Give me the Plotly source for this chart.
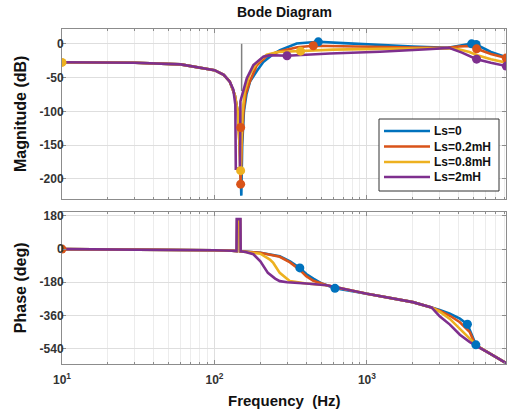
import plotly.graph_objects as go

# ---------------- data ----------------
series_names = ["Ls=0", "Ls=0.2mH", "Ls=0.8mH", "Ls=2mH"]
series_colors = ["#0072BD", "#D95319", "#EDB120", "#7E2F8E"]

# Magnitude (dB)
mag_f_blue = [10, 30, 60, 87, 100, 115, 126, 136, 142, 147, 150, 152, 156, 162, 171, 190, 209, 240, 269, 346, 480, 700, 1216, 2000, 3400, 4000, 4600, 4860, 5200, 6500, 8200]
mag_blue = [-27.3, -28, -30.5, -36.5, -39, -46, -56, -76, -100, -150, -225, -150, -100, -75, -56, -40, -27, -16, -9.3, 0.5, 3, 1, -2, -4, -6, -3, 0, 0.5, -1, -12, -20]

mag_f_orange = [10, 30, 60, 87, 100, 115, 126, 136, 142, 146, 148.5, 151, 155, 160, 170, 189, 220, 269, 350, 445, 700, 1216, 2000, 3400, 4000, 4800, 5240, 6500, 8200]
mag_orange = [-27.3, -28, -30.5, -36.5, -39, -46, -56, -76, -100, -150, -210, -150, -100, -75, -57, -32, -18, -11, -5, -2.9, -4, -5, -5.5, -6, -4, -3, -7.4, -15, -21]

mag_f_yellow = [10, 30, 60, 87, 100, 115, 126, 136, 142, 146, 148.5, 150, 153, 158, 170, 190, 220, 260, 367, 600, 1216, 2000, 3400, 4000, 4700, 5300, 6500, 8200]
mag_yellow = [-27.3, -28, -30.5, -36.5, -39, -46, -56, -76, -100, -150, -190, -150, -100, -70, -45, -28, -16, -12, -10.8, -8.5, -7.5, -7, -6.5, -8, -12, -17, -23, -28]

mag_f_purple = [10, 30, 60, 87, 100, 115, 126, 133, 137, 138, 147, 148, 155, 163, 180, 209, 231, 299, 571, 1216, 2500, 3450, 4200, 5240, 6500, 8200]
mag_purple = [-27.3, -28, -30.5, -36.5, -39, -46, -56, -68, -90, -185, -185, -85, -68, -51, -31.5, -19, -16.7, -17.7, -14.3, -11.8, -8, -6, -13, -22.7, -28, -33]

# Phase (deg)
ph_f_blue = [10, 30, 60, 100, 130, 140.5, 141, 147, 147.5, 160, 200, 268, 313, 363, 400, 445, 500, 545, 617, 1000, 2000, 2650, 3000, 3500, 4070, 4560, 5180, 5300, 6500, 8200]
ph_blue = [0, -1, -3, -6, -9, -11, 160, 160, -12, -14, -20, -39, -66, -102, -135, -160, -185, -196, -213, -242, -288, -317, -330, -351, -378, -408, -520, -527, -570, -620]

ph_f_orange = [10, 30, 60, 100, 130, 140.5, 141, 147, 147.5, 160, 200, 268, 313, 360, 400, 445, 545, 1000, 2000, 2650, 3000, 3500, 4070, 4730, 5100, 5300, 6500, 8200]
ph_orange = [0, -1, -3, -6, -9, -11, 160, 160, -12, -14, -20, -42, -72, -110, -147, -172, -196, -242, -288, -317, -335, -362, -397, -451, -514, -527, -570, -620]

ph_f_yellow = [10, 30, 60, 100, 130, 140.5, 141, 147, 147.5, 160, 180, 200, 231, 243, 268, 313, 400, 545, 1000, 2000, 2650, 3000, 3500, 4070, 4730, 5300, 6500, 8200]
ph_yellow = [0, -1, -3, -6, -9, -11, 160, 160, -12, -15, -18, -25, -57, -75, -129, -174, -187, -196, -242, -288, -317, -340, -379, -433, -487, -527, -570, -620]

ph_f_purple = [10, 30, 60, 100, 130, 139.5, 140, 148, 148.5, 160, 180, 200, 224, 250, 268, 300, 400, 545, 1000, 2000, 2650, 3000, 3500, 4070, 4730, 5300, 6500, 8200]
ph_purple = [0, -1, -3, -6, -9, -11, 163, 163, -12, -16, -28, -66, -129, -160, -174, -180, -187, -196, -242, -288, -317, -365, -410, -465, -505, -527, -570, -620]

# Gray vertical line at the notch in the magnitude plot
notch_line_f = [150.7, 150.7]
notch_line_db = [0, -70]

# Data-tip markers
mk_mag_f = [[480, 4860, 5200], [148.5, 148.5, 445, 5240, 8200], [10, 148.5, 367], [299, 5240, 8200]]
mk_mag_db = [[3, 0, -1], [-124, -208, -2.9, -7.4, -21], [-27.5, -188, -10.8], [-17.7, -22.7, -33]]
mk_ph_f = [[363, 617, 4560, 5180], [10], [], []]
mk_ph_deg = [[-102, -213, -408, -520], [0], [], []]

mag_ticks = [0, -50, -100, -150, -200]
mag_tick_text = ["0", "-50", "-100", "-150", "-200"]
ph_ticks = [180, 0, -180, -360, -540]
ph_tick_text = ["180", "0", "-180", "-360", "-540"]
x_major = [10, 100, 1000]
x_major_text = ["10<sup>1</sup>", "10<sup>2</sup>", "10<sup>3</sup>"]
x_minor = [20, 30, 40, 50, 60, 70, 80, 90, 200, 300, 400, 500, 600, 700, 800, 900,
           2000, 3000, 4000, 5000, 6000, 7000, 8000]

# ---------------- figure ----------------
mag_f = [mag_f_blue, mag_f_orange, mag_f_yellow, mag_f_purple]
mag_v = [mag_blue, mag_orange, mag_yellow, mag_purple]
ph_f = [ph_f_blue, ph_f_orange, ph_f_yellow, ph_f_purple]
ph_v = [ph_blue, ph_orange, ph_yellow, ph_purple]

W, H = 509, 417
l_m, r_m, t_m, b_m = 62, 3, 29, 53
plot_w = W - l_m - r_m
plot_h = H - t_m - b_m


def px_x(px):
    return (px - l_m) / plot_w


def px_y(py):
    return (H - b_m - py) / plot_h


fig = go.Figure()

fig.add_trace(go.Scatter(x=notch_line_f, y=notch_line_db, mode="lines",
                         line=dict(color="#808080", width=1.5), showlegend=False,
                         xaxis="x", yaxis="y"))

for i in range(4):
    fig.add_trace(go.Scatter(x=mag_f[i], y=mag_v[i], mode="lines", name=series_names[i],
                             line=dict(color=series_colors[i], width=2.6),
                             showlegend=False, xaxis="x", yaxis="y"))
for i in range(4):
    fig.add_trace(go.Scatter(x=ph_f[i], y=ph_v[i], mode="lines", name=series_names[i],
                             line=dict(color=series_colors[i], width=2.6),
                             showlegend=False, xaxis="x2", yaxis="y2"))
for i in range(4):
    if mk_mag_f[i]:
        fig.add_trace(go.Scatter(x=mk_mag_f[i], y=mk_mag_db[i], mode="markers",
                                 marker=dict(color=series_colors[i], size=9),
                                 showlegend=False, xaxis="x", yaxis="y"))
    if mk_ph_f[i]:
        fig.add_trace(go.Scatter(x=mk_ph_f[i], y=mk_ph_deg[i], mode="markers",
                                 marker=dict(color=series_colors[i], size=9),
                                 showlegend=False, xaxis="x2", yaxis="y2"))

FONT = "Liberation Sans, Arial, Helvetica, sans-serif"
tickfont = dict(family=FONT, size=12, color="#333333", weight=700)
axcol = "#8c8c8c"
gridcol = "#dedede"
minorgrid = "#ececec"

mag_dom = [px_y(199), 1.0]
ph_dom = [0.0, px_y(212.3)]

xcommon = dict(type="log", range=[1, 3.912], tickvals=x_major, ticktext=x_major_text,
               showgrid=True, gridcolor=gridcol, gridwidth=1, automargin=False,
               showline=True, linecolor=axcol, linewidth=1, mirror="ticks",
               ticks="inside", ticklen=4, tickcolor=axcol, tickfont=tickfont,
               minor=dict(tickvals=x_minor, showgrid=True, gridcolor=minorgrid,
                          ticks="inside", ticklen=2, tickcolor=axcol),
               zeroline=False)
ycommon = dict(showgrid=True, gridcolor=gridcol, gridwidth=1, automargin=False,
               showline=True, linecolor=axcol, linewidth=1, mirror="ticks",
               ticks="inside", ticklen=4, tickcolor=axcol, tickfont=tickfont,
               zeroline=False, ticklabelstandoff=-5)

# Legend (drawn in the upper plot, MATLAB style)
leg_box = (379, 119, 499, 191)
leg_rows = [131, 146.5, 162, 177]
shapes = [dict(type="rect", xref="paper", yref="paper", layer="above",
               x0=px_x(leg_box[0]), x1=px_x(leg_box[2]),
               y0=px_y(leg_box[3]), y1=px_y(leg_box[1]),
               fillcolor="white", line=dict(color="#333333", width=1))]
leg_ann = []
for i in range(4):
    shapes.append(dict(type="line", xref="paper", yref="paper", layer="above",
                       x0=px_x(384), x1=px_x(430), y0=px_y(leg_rows[i]), y1=px_y(leg_rows[i]),
                       line=dict(color=series_colors[i], width=2.6)))
    leg_ann.append(dict(text="<b>" + series_names[i] + "</b>", xref="paper", yref="paper",
                        x=px_x(432), y=px_y(leg_rows[i]), xanchor="left", yanchor="middle",
                        showarrow=False, font=dict(family=FONT, size=12, color="#111111")))

fig.update_layout(
    width=W, height=H,
    margin=dict(l=l_m, r=r_m, t=t_m, b=b_m, autoexpand=False),
    paper_bgcolor="white", plot_bgcolor="white",
    xaxis=dict(xcommon, anchor="y", domain=[0, 1], showticklabels=False, matches="x2"),
    yaxis=dict(ycommon, anchor="x", domain=mag_dom, range=[-230, 22],
               tickvals=mag_ticks, ticktext=mag_tick_text),
    xaxis2=dict(xcommon, anchor="y2", domain=[0, 1], ticklabelstandoff=5),
    yaxis2=dict(ycommon, anchor="x2", domain=ph_dom, range=[-624, 200],
                tickvals=ph_ticks, ticktext=ph_tick_text),
    showlegend=False,
    shapes=shapes,
    annotations=[
        dict(text="<b>Bode Diagram</b>", xref="paper", yref="paper", x=0.5, y=1,
             yshift=17, showarrow=False, font=dict(family=FONT, size=14, color="#111111"),
             yanchor="middle"),
        dict(text="<b>Magnitude (dB)</b>", xref="paper", yref="paper",
             x=0, xshift=-42, y=(mag_dom[0] + mag_dom[1]) / 2, textangle=-90,
             xanchor="center", yanchor="middle",
             showarrow=False, font=dict(family=FONT, size=16, color="#111111")),
        dict(text="<b>Phase (deg)</b>", xref="paper", yref="paper",
             x=0, xshift=-42, y=(ph_dom[0] + ph_dom[1]) / 2, textangle=-90,
             xanchor="center", yanchor="middle",
             showarrow=False, font=dict(family=FONT, size=16, color="#111111")),
        dict(text="<b>Frequency  (Hz)</b>", xref="paper", yref="paper",
             x=0.5, y=0, yshift=-36, showarrow=False, yanchor="middle",
             font=dict(family=FONT, size=15, color="#111111")),
    ] + leg_ann,
)

fig.write_html("out.html", config={"displayModeBar": False},
               post_script="document.body.style.margin='0';document.body.style.overflow='hidden';")
